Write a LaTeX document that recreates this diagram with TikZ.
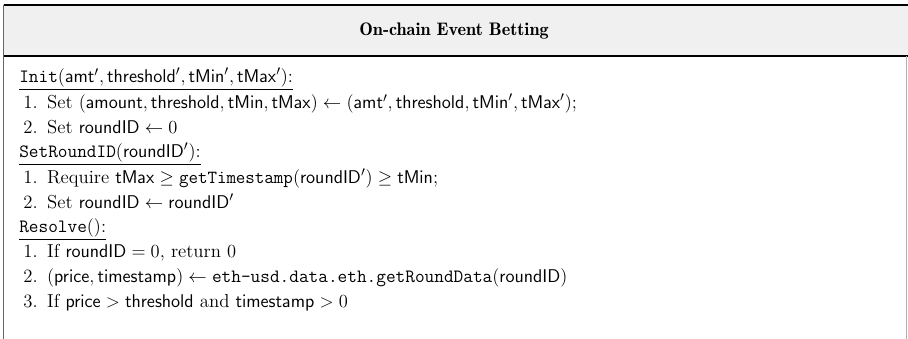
\documentclass[tikz,border=0pt]{standalone}
\usepackage{amsmath,amssymb}
\usepackage{tikz}

% numbered step inside a procedure
\newcommand{\stepno}[1]{\makebox[15.5pt][l]{#1}}
\newcommand{\vr}[1]{\mathsf{#1}}

\begin{document}
\begin{tikzpicture}[x=0.65pt, y=-0.65pt,
    line/.style={inner sep=0pt, anchor=base west, font=\fontsize{12.2}{14}\selectfont},
    proc/.style={line},
    ]
    \useasboundingbox (0,0) rectangle (908,339);

    % frame and header
    \fill[gray!12] (3.5,5) rectangle (908,56);
    \draw[line width=0.8pt] (3.5,5) -- (908,5);
    \draw[line width=0.8pt] (3.5,56) -- (908,56);
    \draw[line width=0.8pt, gray!80!black] (3.5,5) -- (3.5,339);
    \draw[gray!60] (906.5,56) -- (906.5,339);
    \node[inner sep=0pt, anchor=base, font=\fontsize{11.8}{14}\fontseries{b}\selectfont] (title) at (454,36) {On-chain Event Betting};

    % Init
    \node[proc] (init) at (19,83) {\texttt{Init}$(\vr{amt}',\vr{threshold}',\vr{tMin}',\vr{tMax}')$:};
    \draw ([yshift=-3.8pt]init.base west) -- ([yshift=-3.8pt]init.base east);
    \node[line] (initA) at (23,109) {\stepno{1.}Set $(\vr{amount},\vr{threshold},\vr{tMin},\vr{tMax}) \leftarrow (\vr{amt}',\vr{threshold},\vr{tMin}',\vr{tMax}')$;};
    \node[line] (initB) at (23,134) {\stepno{2.}Set $\vr{roundID} \leftarrow 0$};

    % SetRoundID
    \node[proc] (setid) at (19,158) {\texttt{SetRoundID}$(\vr{roundID}')$:};
    \draw ([yshift=-3.8pt]setid.base west) -- ([yshift=-3.8pt]setid.base east);
    \node[line] (setidA) at (23,184) {\stepno{1.}Require $\vr{tMax} \geq \mathtt{getTimestamp}(\vr{roundID}') \geq \vr{tMin}$;};
    \node[line] (setidB) at (23,209) {\stepno{2.}Set $\vr{roundID} \leftarrow \vr{roundID}'$};

    % Resolve
    \node[proc] (resolve) at (19,233) {\texttt{Resolve}$()$:};
    \draw ([yshift=-3.8pt]resolve.base west) -- ([yshift=-3.8pt]resolve.base east);
    \node[line] (resolveA) at (23,258) {\stepno{1.}If $\vr{roundID} = 0$, return $0$};
    \node[line] (resolveB) at (23,283) {\stepno{2.}$(\vr{price},\vr{timestamp}) \leftarrow \text{\texttt{eth-usd.data.eth.getRoundData}}(\vr{roundID})$};
    \node[line] (resolveC) at (23,308) {\stepno{3.}If $\vr{price} > \vr{threshold}$ and $\vr{timestamp} > 0$};
\end{tikzpicture}
\end{document}
